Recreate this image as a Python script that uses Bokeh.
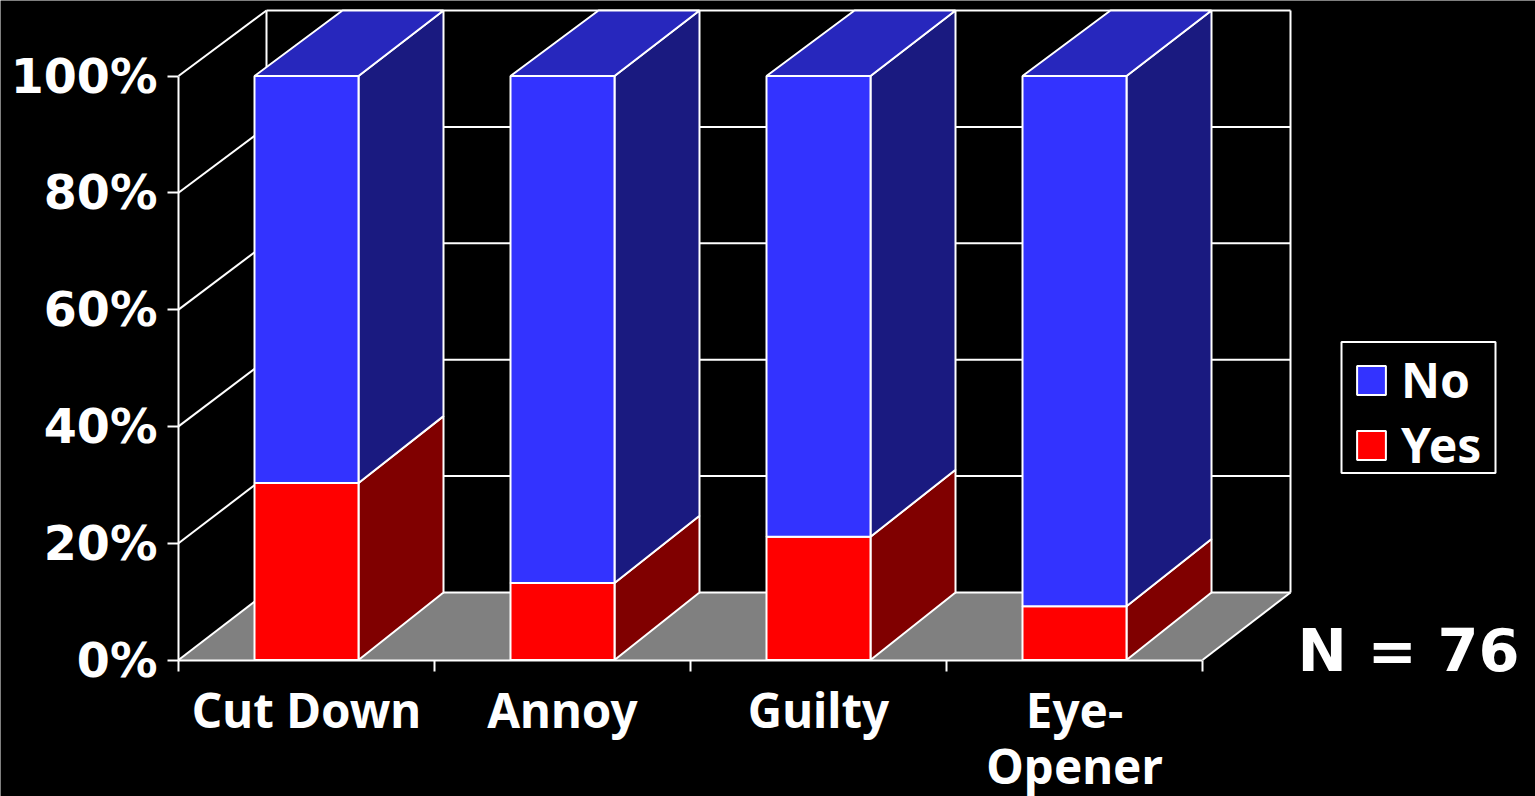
from bokeh.plotting import figure
from bokeh.embed import file_html
from bokeh.resources import INLINE
from bokeh.core.properties import value
from bokeh.models import FixedTicker, Range1d, Legend, LegendItem, PrintfTickFormatter

categories = ["Cut Down", "Annoy", "Guilty", "Eye-"]
category_second_line = "Opener"
yes_pct = [30.3, 13.2, 21.1, 9.2]
no_pct = [69.7, 86.8, 78.9, 90.8]
y_ticks = [0, 20, 40, 60, 80, 100]
sample_note = "N = 76"

# pseudo-3D projection, in axis units
PX_X = 256.0            # px per category
PX_Y = 5.84             # px per percent
WALL_DX = 88 / PX_X
BAR_W = 104 / PX_X
BAR_PAD = 76 / PX_X
BACK_BAR_W = 101 / PX_X
BAR_DX = 88 / PX_X
BACK_Y0 = 67.5 / PX_Y
BACK_YS = 0.9966
WHITE = "#ffffff"
FONT = "Noto Sans"


def back(v):
    return BACK_Y0 + v * BACK_YS


p = figure(width=1535, height=796, output_backend="svg", toolbar_location=None,
           x_range=Range1d(-178 / PX_X, 1357 / PX_X), y_range=Range1d(-136.5 / PX_Y, 659.5 / PX_Y),
           min_border_left=0, min_border_right=0, min_border_top=0, min_border_bottom=0,
           background_fill_color="#000000", border_fill_color="#000000",
           outline_line_color=None)
p.grid.visible = False

n = len(categories)
LW = 2

# floor
p.patch([0, n, n + WALL_DX, WALL_DX], [0, 0, back(0), back(0)],
        fill_color="#808080", line_color=None)

# left wall grid
p.segment([0] * len(y_ticks), y_ticks, [WALL_DX] * len(y_ticks), [back(v) for v in y_ticks],
          line_color=WHITE, line_width=LW)
# back wall grid
p.segment([WALL_DX] * len(y_ticks), [back(v) for v in y_ticks],
          [n + WALL_DX] * len(y_ticks), [back(v) for v in y_ticks],
          line_color=WHITE, line_width=LW)
# wall verticals and floor right edge
p.segment([WALL_DX, n + WALL_DX, n], [back(0), back(0), 0],
          [WALL_DX, n + WALL_DX, n + WALL_DX], [back(100), back(100), back(0)],
          line_color=WHITE, line_width=LW)

lefts = [i + BAR_PAD for i in range(n)]
rights = [l + BAR_W for l in lefts]
back_lefts = [l + BAR_DX for l in lefts]
back_rights = [bl + BACK_BAR_W for bl in back_lefts]
tops = [a + b for a, b in zip(yes_pct, no_pct)]

# side faces
p.patches([[r, br, br, r] for r, br in zip(rights, back_rights)],
          [[0, back(0), back(y), y] for y in yes_pct],
          fill_color="#800000", line_color=WHITE, line_width=LW)
p.patches([[r, br, br, r] for r, br in zip(rights, back_rights)],
          [[y, back(y), back(t), t] for y, t in zip(yes_pct, tops)],
          fill_color="#1a1a80", line_color=WHITE, line_width=LW)
# top faces
p.patches([[l, bl, br, r] for l, bl, br, r in zip(lefts, back_lefts, back_rights, rights)],
          [[t, back(t), back(t), t] for t in tops],
          fill_color="#2727bd", line_color=WHITE, line_width=LW)
# front faces
r_yes = p.quad(left=lefts, right=rights, bottom=[0] * n, top=yes_pct,
               fill_color="#ff0000", line_color=WHITE, line_width=LW)
r_no = p.quad(left=lefts, right=rights, bottom=yes_pct, top=tops,
              fill_color="#3333ff", line_color=WHITE, line_width=LW)

# axes
ya = p.yaxis[0]
ya.fixed_location = 0
ya.ticker = FixedTicker(ticks=y_ticks)
ya.formatter = PrintfTickFormatter(format="%d%%")
ya.bounds = (0, 100)
ya.axis_line_color = WHITE
ya.axis_line_width = LW
ya.major_tick_line_color = WHITE
ya.major_tick_line_width = LW
ya.major_tick_in = 0
ya.major_tick_out = 11
ya.major_label_standoff = 10
ya.major_label_text_color = WHITE
ya.major_label_text_font = "DejaVu Sans"
ya.major_label_text_font_style = "bold"
ya.major_label_text_font_size = "47.5px"

xa = p.xaxis[0]
xa.fixed_location = 0
centers = [i + 0.5 for i in range(n)]
xa.ticker = FixedTicker(ticks=centers, minor_ticks=list(range(n + 1)))
xa.major_label_overrides = dict(zip(centers, categories))
xa.bounds = (0, n)
xa.axis_line_color = WHITE
xa.axis_line_width = 2
xa.major_tick_line_color = None
xa.major_tick_in = 0
xa.major_tick_out = 11
xa.minor_tick_line_color = WHITE
xa.minor_tick_line_width = LW
xa.minor_tick_in = 0
xa.minor_tick_out = 11
xa.major_label_standoff = 6
xa.major_label_text_color = WHITE
xa.major_label_text_font = FONT
xa.major_label_text_font_style = "bold"
xa.major_label_text_font_size = "47.5px"

p.text(x=[centers[-1]], y=[-105 / PX_Y], text=[category_second_line], text_color=WHITE,
       text_align="center", text_baseline="alphabetic",
       text_font=value(FONT), text_font_style="bold", text_font_size="47.5px")

# legend frame and legend
p.quad(left=[(1341 - 178) / PX_X], right=[(1495 - 178) / PX_X],
       bottom=[(660 - 473) / PX_Y], top=[(660 - 342) / PX_Y],
       fill_color=None, line_color=WHITE, line_width=2)
legend = Legend(items=[LegendItem(label="No", renderers=[r_no]),
                       LegendItem(label="Yes", renderers=[r_yes])],
                location=(1353, 319), orientation="vertical",
                background_fill_alpha=0, border_line_color=None,
                label_text_color=WHITE, label_text_font=FONT, label_text_font_style="bold",
                label_text_font_size="48px", glyph_width=36, glyph_height=36,
                label_standoff=12, padding=0, spacing=0, margin=0)
p.add_layout(legend, "center")

p.text(x=[(1297 - 178) / PX_X], y=[10 / PX_Y], text=[sample_note], text_color=WHITE,
       text_baseline="alphabetic", text_align="left",
       text_font=value("DejaVu Sans"), text_font_style="bold", text_font_size="59px")

open("out.html", "w").write(file_html(p, INLINE))
